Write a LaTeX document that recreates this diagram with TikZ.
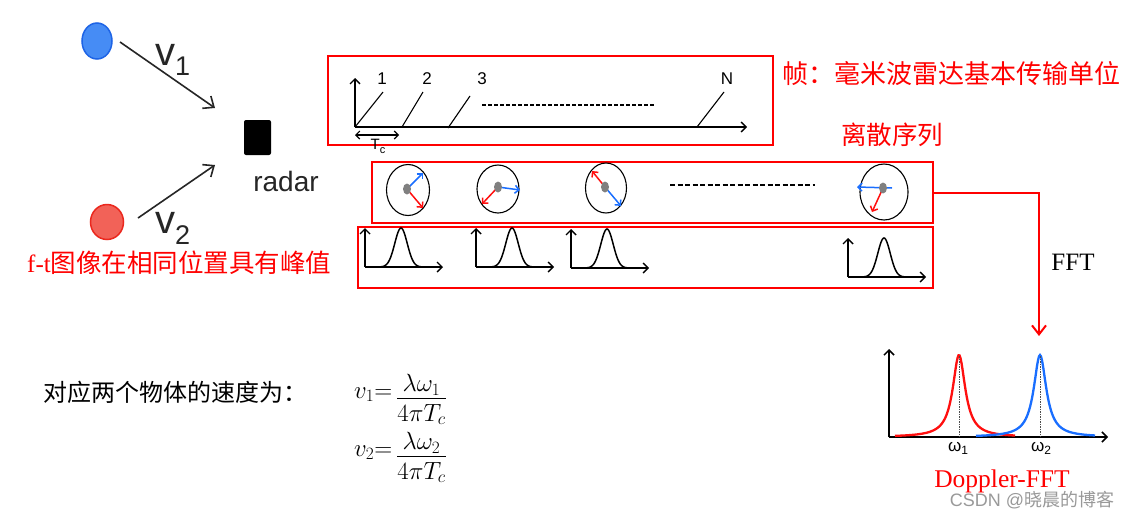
\documentclass[tikz,border=0pt]{standalone}
\usepackage{fontspec}
\setmainfont{Liberation Serif}
\setsansfont{Liberation Sans}
\newfontfamily\cjk{Noto Sans CJK SC}
\usetikzlibrary{arrows.meta,shapes.geometric}
\definecolor{boxred}{RGB}{255,0,0}
\definecolor{pblue}{RGB}{25,110,255}
\definecolor{pred}{RGB}{255,15,15}
\definecolor{objblue}{RGB}{70,140,245}
\definecolor{objblueb}{RGB}{30,100,230}
\definecolor{objred}{RGB}{242,98,88}
\definecolor{objredb}{RGB}{235,40,30}
\tikzset{
  redbox/.style={draw=boxred, line width=2pt, inner sep=0pt, anchor=north west},
  axisline/.style={line width=1.4pt, -{Straight Barb[length=5pt,width=10pt]}},
  chirp/.style={line width=1.1pt},
  objarrow/.style={line width=1.6pt, black!85, -{Straight Barb[length=9pt,width=15pt]}},
  phasor/.style={draw, ellipse, line width=1.1pt, inner sep=0pt},
  vec/.style={line width=1.5pt, -{Straight Barb[length=4pt,width=8pt]}},
  cjkred/.style={text=boxred, font=\cjk\fontsize{26}{30}\selectfont, inner sep=0pt},
  cjkblack/.style={text=black, font=\cjk\fontsize{24}{28}\selectfont, inner sep=0pt},
  sflabel/.style={font=\sffamily\fontsize{17}{17}\selectfont, inner sep=0pt},
  mathpart/.style={anchor=base, inner sep=0pt, font=\fontsize{24}{28}\selectfont},
  ftplot/.pic={
    \draw[axisline] (0,0) -- (0,-39);
    \draw[axisline] (0,0) -- (78,0);
    \draw[line width=1.5pt] plot[domain=2:62, samples=70]
      (\x,{-39*exp(-1*(((\x-36)/8.8)^2))});
  }
}
\begin{document}
\begin{tikzpicture}[x=1pt,y=-1pt]
\fill[white] (0,0) rectangle (1132,520);
\useasboundingbox (0,0) rectangle (1132,520);

% ---- objects and radar ----
\node[ellipse, fill=objblue, draw=objblueb, line width=1.5pt, minimum width=30pt, minimum height=36pt, inner sep=0pt] (bobj) at (97,41) {};
\node[ellipse, fill=objred, draw=objredb, line width=1.5pt, minimum width=33pt, minimum height=35pt, inner sep=0pt] (robj) at (107,222) {};
\coordinate (a1s) at (120,42);
\coordinate (a1e) at (215,108);
\coordinate (a2s) at (138,218);
\coordinate (a2e) at (215,165);
\draw[objarrow] (a1s) -- (a1e);
\draw[objarrow] (a2s) -- (a2e);
\node[anchor=base west, font=\sffamily\fontsize{40}{40}\selectfont, text=black!85, inner sep=0pt] (v1lbl) at (155,65) {v\raisebox{-10pt}{\fontsize{27}{27}\selectfont 1}};
\node[anchor=base west, font=\sffamily\fontsize{40}{40}\selectfont, text=black!85, inner sep=0pt] (v2lbl) at (155,233) {v\raisebox{-11pt}{\fontsize{27}{27}\selectfont 2}};
\node[fill=black, rounded corners=2pt, minimum width=27pt, minimum height=35pt, inner sep=0pt] (radar) at (257.5,137.5) {};
\node[font=\sffamily\fontsize{28}{28}\selectfont, text=black!85, inner sep=0pt] (radarlbl) at (286,181) {radar};

% ---- frame box ----
\node[redbox, minimum width=445pt, minimum height=89pt] (frame) at (327,55) {};
\coordinate (o) at (355,127);
\coordinate (ytop) at (355,78);
\coordinate (xend) at (747,127);
\draw[axisline] (o) -- (ytop);
\draw[axisline] (o) -- (xend);
\coordinate (c1a) at (402,127);
\coordinate (c2a) at (448,128);
\coordinate (cna) at (697,127);
\draw[chirp] (o) -- (383,92);
\draw[chirp] (c1a) -- (423,92);
\draw[chirp] (c2a) -- (470,96);
\draw[chirp] (cna) -- (724,92);
\node[sflabel] (l1) at (382,79) {1};
\node[sflabel] (l2) at (427,79) {2};
\node[sflabel] (l3) at (482,79) {3};
\node[sflabel] (lN) at (727,79) {N};
\draw[line width=1.5pt, dash pattern=on 4pt off 2pt] (482,105) -- (655,105);
\coordinate (tca) at (355,135);
\coordinate (tcb) at (399,135);
\draw[line width=1.1pt, {Straight Barb[length=4pt,width=8pt]}-{Straight Barb[length=4pt,width=8pt]}] (tca) -- (tcb);
\node[font=\sffamily\fontsize{15}{15}\selectfont, inner sep=0pt] (tclbl) at (378,146) {T\raisebox{-4pt}{\fontsize{11}{11}\selectfont c}};

\node[cjkred, anchor=west] (framelbl) at (782,74) {帧：毫米波雷达基本传输单位};
\node[cjkred, font=\cjk\fontsize{25.5}{30}\selectfont] (seqlbl) at (892,135) {离散序列};

% ---- discrete sequence box ----
\node[redbox, minimum width=561pt, minimum height=61pt] (seq) at (371,161) {};
\node[phasor, minimum width=43pt, minimum height=51pt] (p1) at (408,190) {};
\node[phasor, minimum width=42pt, minimum height=48pt] (p2) at (498,189) {};
\node[phasor, minimum width=41pt, minimum height=50pt] (p3) at (606,188) {};
\node[phasor, minimum width=48pt, minimum height=56pt] (p4) at (884,192) {};
\coordinate (d1) at (407,189);
\coordinate (d2) at (498,187);
\coordinate (d3) at (605,187);
\coordinate (d4) at (883,188);
\draw[vec, pblue] (d1) -- (423,173);
\draw[vec, pred] (d1) -- (423,208);
\draw[vec, pblue] (d2) -- (520,190);
\draw[vec, pred] (d2) -- (482,204);
\draw[vec, pred] (d3) -- (592,171);
\draw[vec, pblue] (d3) -- (621,206);
\draw[vec, pblue] (892,188) -- (857,187);
\draw[vec, pred] (d4) -- (872,212);
\fill[gray] (d1) ellipse (4 and 5.5);
\fill[gray] (d2) ellipse (4 and 5.5);
\fill[gray] (d3) ellipse (4 and 5.5);
\fill[gray] (d4) ellipse (4 and 5.5);
\draw[line width=2.3pt, dash pattern=on 5pt off 2.5pt] (670,185) -- (815,185);

% ---- f-t box ----
\node[redbox, minimum width=575pt, minimum height=61pt] (ft) at (357,226) {};
\pic at (365,267) {ftplot};
\pic at (476,267) {ftplot};
\pic at (571,268) {ftplot};
\pic at (848,277) {ftplot};
\node[anchor=west, inner sep=0pt] (ftlbl) at (27,263) {\textcolor{boxred}{\fontsize{25}{28}\selectfont f-t}\textcolor{boxred}{\cjk\fontsize{25.5}{28}\selectfont 图像在相同位置具有峰值}};

% ---- FFT connector ----
\coordinate (fftend) at (1039,336);
\draw[boxred, line width=2pt, -{Straight Barb[length=9pt,width=14pt]}] (seq.east) -| (fftend);
\node[font=\fontsize{25}{25}\selectfont, inner sep=0pt] (fftlbl) at (1073,262) {FFT};

% ---- Doppler FFT plot ----
\coordinate (dorig) at (889,437);
\draw[axisline, line width=1.5pt] (dorig) -- (889,349);
\draw[axisline, line width=1.5pt] (dorig) -- (1108,437);
\draw[pred, line width=2.3pt] plot[domain=895:1015, samples=120] (\x,{437-82/(1+((\x-959)/7.6)^2)});
\draw[pblue, line width=2.3pt] plot[domain=976:1095, samples=120] (\x,{437-82/(1+((\x-1040)/7.6)^2)});
\draw[black!70, line width=0.6pt, dash pattern=on 1.5pt off 1pt] (959,356) -- (959,437);
\draw[black!70, line width=0.6pt, dash pattern=on 1.5pt off 1pt] (1040,356) -- (1040,437);
\node[font=\sffamily\fontsize{17}{17}\selectfont, inner sep=0pt] (w1) at (958,448) {ω\raisebox{-3pt}{\fontsize{12}{12}\selectfont 1}};
\node[font=\sffamily\fontsize{17}{17}\selectfont, inner sep=0pt] (w2) at (1041,448) {ω\raisebox{-3pt}{\fontsize{12}{12}\selectfont 2}};
\node[text=boxred, font=\fontsize{25.5}{26}\selectfont, inner sep=0pt] (dopp) at (1002,481) {Doppler-FFT};
\node[text=black!40, inner sep=0pt] (wm) at (1032,500) {{\sffamily\fontsize{18}{18}\selectfont CSDN @}{\cjk\fontsize{18}{18}\selectfont 晓晨的博客}};

% ---- velocity formulas ----
\node[cjkblack, anchor=west] (veltxt) at (43,392) {对应两个物体的速度为：};
\node[anchor=base west, inner sep=0pt, font=\fontsize{24}{28}\selectfont] (f1l) at (354,398) {$v_1{=}$};
\node[mathpart] (f1n) at (421.5,391.5) {$\lambda\omega_1$};
\node[mathpart] (f1d) at (421.5,421) {$4\pi T_c$};
\draw[line width=0.8pt] (f1d.west |- 0,398.5) -- (f1d.east |- 0,398.5);
\node[anchor=base west, inner sep=0pt, font=\fontsize{24}{28}\selectfont] (f2l) at (354,456) {$v_2{=}$};
\node[mathpart] (f2n) at (421.5,449.5) {$\lambda\omega_2$};
\node[mathpart] (f2d) at (421.5,479) {$4\pi T_c$};
\draw[line width=0.8pt] (f2d.west |- 0,456.5) -- (f2d.east |- 0,456.5);
\end{tikzpicture}
\end{document}
